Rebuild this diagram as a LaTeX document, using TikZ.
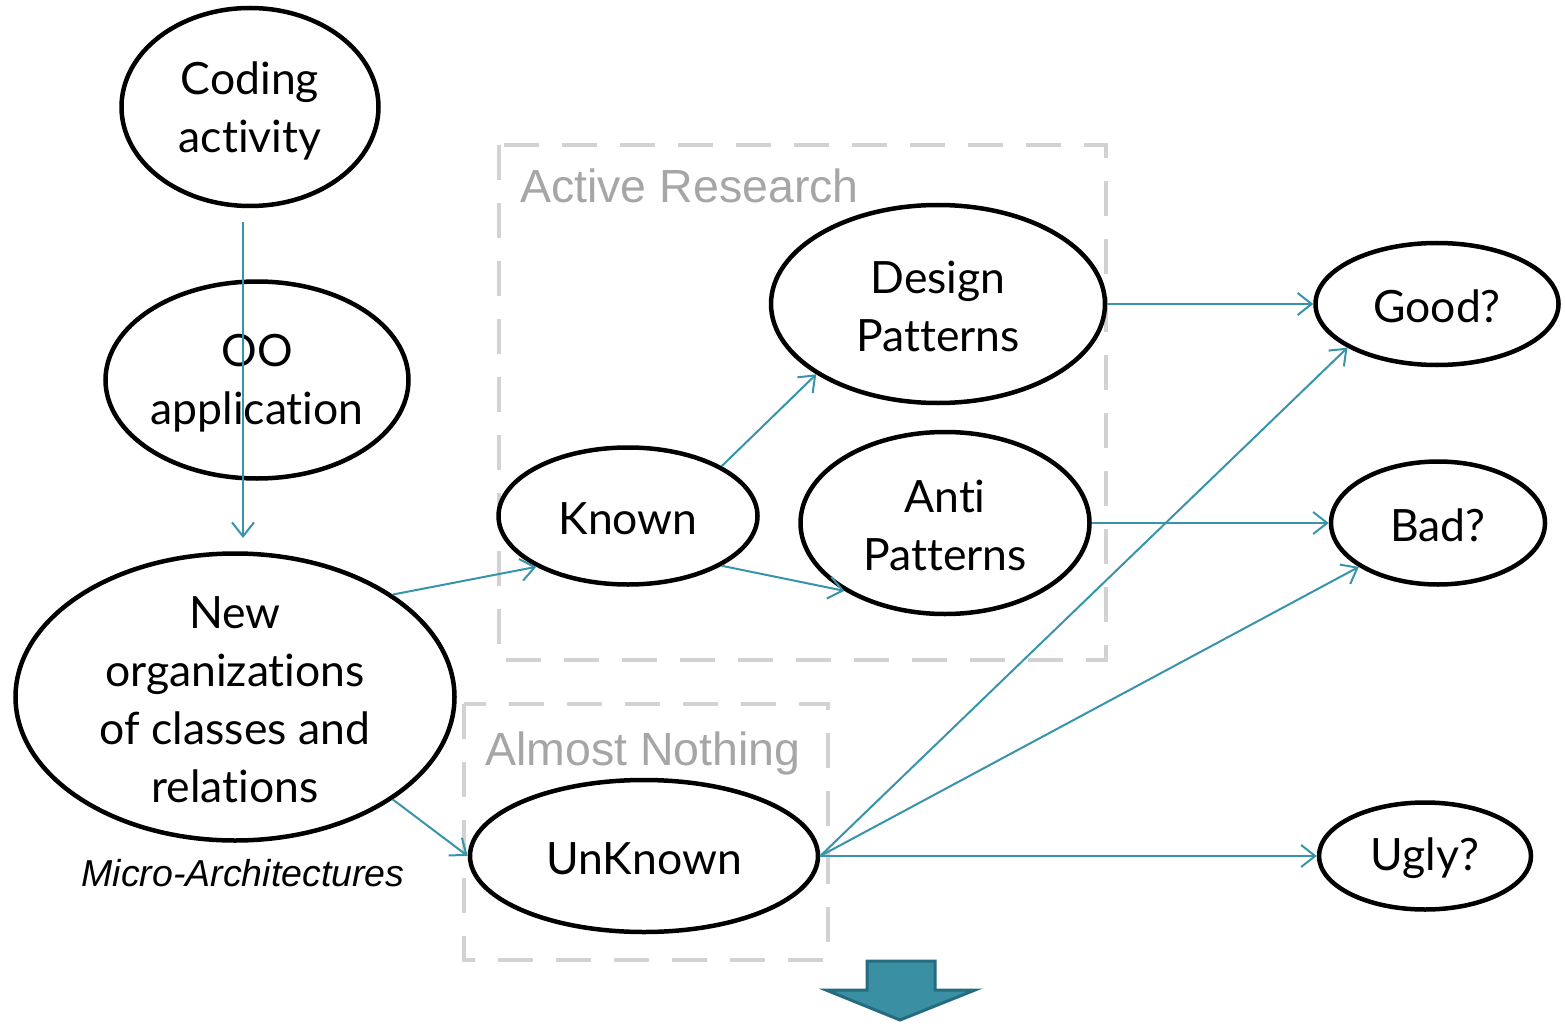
\documentclass[tikz,border=0pt]{standalone}
\usepackage{fontspec}
\setmainfont{Lato}[Ligatures=NoCommon]
\newfontfamily\arialfont{Liberation Sans}
\usetikzlibrary{shapes.geometric,arrows.meta}
\definecolor{teal1}{RGB}{55,148,170}
\definecolor{tealfill}{RGB}{58,143,163}
\definecolor{tealdark}{RGB}{38,108,128}
\definecolor{boxgray}{RGB}{210,210,210}
\definecolor{labgray}{RGB}{166,166,166}
\tikzset{
  ell/.style={ellipse, draw=black, line width=4.5pt, inner sep=0pt},
  etext/.style={inner sep=0pt, align=center, font=\fontsize{44.5}{58}\selectfont},
  conn/.style={draw=teal1, line width=2pt, -{Straight Barb[length=14pt,width=22pt,line width=2pt]}},
  areabox/.style={draw=boxgray, line width=4pt, dash pattern=on 35pt off 23pt},
  arealabel/.style={anchor=base west, text=labgray, inner sep=0pt, font=\arialfont\fontsize{46.5}{50}\selectfont},
}
\begin{document}
\begin{tikzpicture}[x=1pt,y=-1pt]
\useasboundingbox (0,0) rectangle (1565,1024);
% dashed areas
\draw[areabox] (499,145) rectangle (1106,660);
\node[arealabel] (lab1) at (520,203) {Active Research};
\draw[areabox] (464,704) rectangle (828,960);
\node[arealabel] (lab2) at (485,765) {Almost Nothing};
% ellipses
\node[ell, minimum width=257pt, minimum height=198pt] (coding) at (250,107) {};
\node[ell, minimum width=303pt, minimum height=197pt] (oo) at (257,380) {};
\node[ell, minimum width=439pt, minimum height=287pt] (new) at (235,697) {};
\node[ell, minimum width=259pt, minimum height=137pt] (known) at (628,516) {};
\node[ell, minimum width=334pt, minimum height=198pt] (design) at (938,304) {};
\node[ell, minimum width=289pt, minimum height=182pt] (anti) at (945,523) {};
\node[ell, minimum width=348pt, minimum height=152pt] (unknown) at (644,856) {};
\node[ell, minimum width=243pt, minimum height=122pt] (good) at (1437,304) {};
\node[ell, minimum width=214pt, minimum height=123pt] (bad) at (1438,523) {};
\node[ell, minimum width=212pt, minimum height=107pt] (ugly) at (1425,856) {};
% texts
\node[etext] (codingt) at ([yshift=-4pt]coding.center) {Coding\\activity};
\node[etext] (oot) at ([yshift=-3pt]oo.center) {OO\\application};
\node[etext] (newt) at ([yshift=-3pt]new.center) {New\\organizations\\of classes and\\relations};
\node[etext] (knownt) at ([yshift=-3pt]known.center) {Known};
\node[etext] (designt) at ([yshift=-2.5pt]design.center) {Design\\Patterns};
\node[etext] (antit) at ([yshift=-2.5pt]anti.center) {Anti\\Patterns};
\node[etext] (unknownt) at ([yshift=-3pt]unknown.center) {UnKnown};
\node[etext] (goodt) at ([yshift=-2pt]good.center) {Good?};
\node[etext] (badt) at ([yshift=-2pt]bad.center) {Bad?};
\node[etext] (uglyt) at ([yshift=-2pt]ugly.center) {Ugly?};
\node[anchor=base, inner sep=0pt, font=\arialfont\itshape\fontsize{37.5}{40}\selectfont] (micro) at (243,886) {Micro-Architectures};
% connectors
\coordinate (c1) at (243,222);
\coordinate (c2) at (243,538);
\draw[conn] (c1) -- (c2);
\draw[conn] (new.33) -- (known.209);
\draw[conn] (new.327) -- (unknown.180);
\draw[conn] (known.28) -- (design.210);
\draw[conn] (known.332) -- (anti.214);
\draw[conn] (design.0) -- (good.180);
\draw[conn] (anti.0) -- (bad.180);
\draw[conn] (unknown.0) -- (good.206);
\draw[conn] (unknown.0) -- (bad.209);
\draw[conn] (unknown.0) -- (ugly.180);
% big arrow
\draw[fill=tealfill, draw=tealdark, line width=3pt, line join=miter]
  (867,961) -- (935,961) -- (935,990) -- (975,990) -- (900,1020) -- (826,990) -- (867,990) -- cycle;
\end{tikzpicture}
\end{document}
